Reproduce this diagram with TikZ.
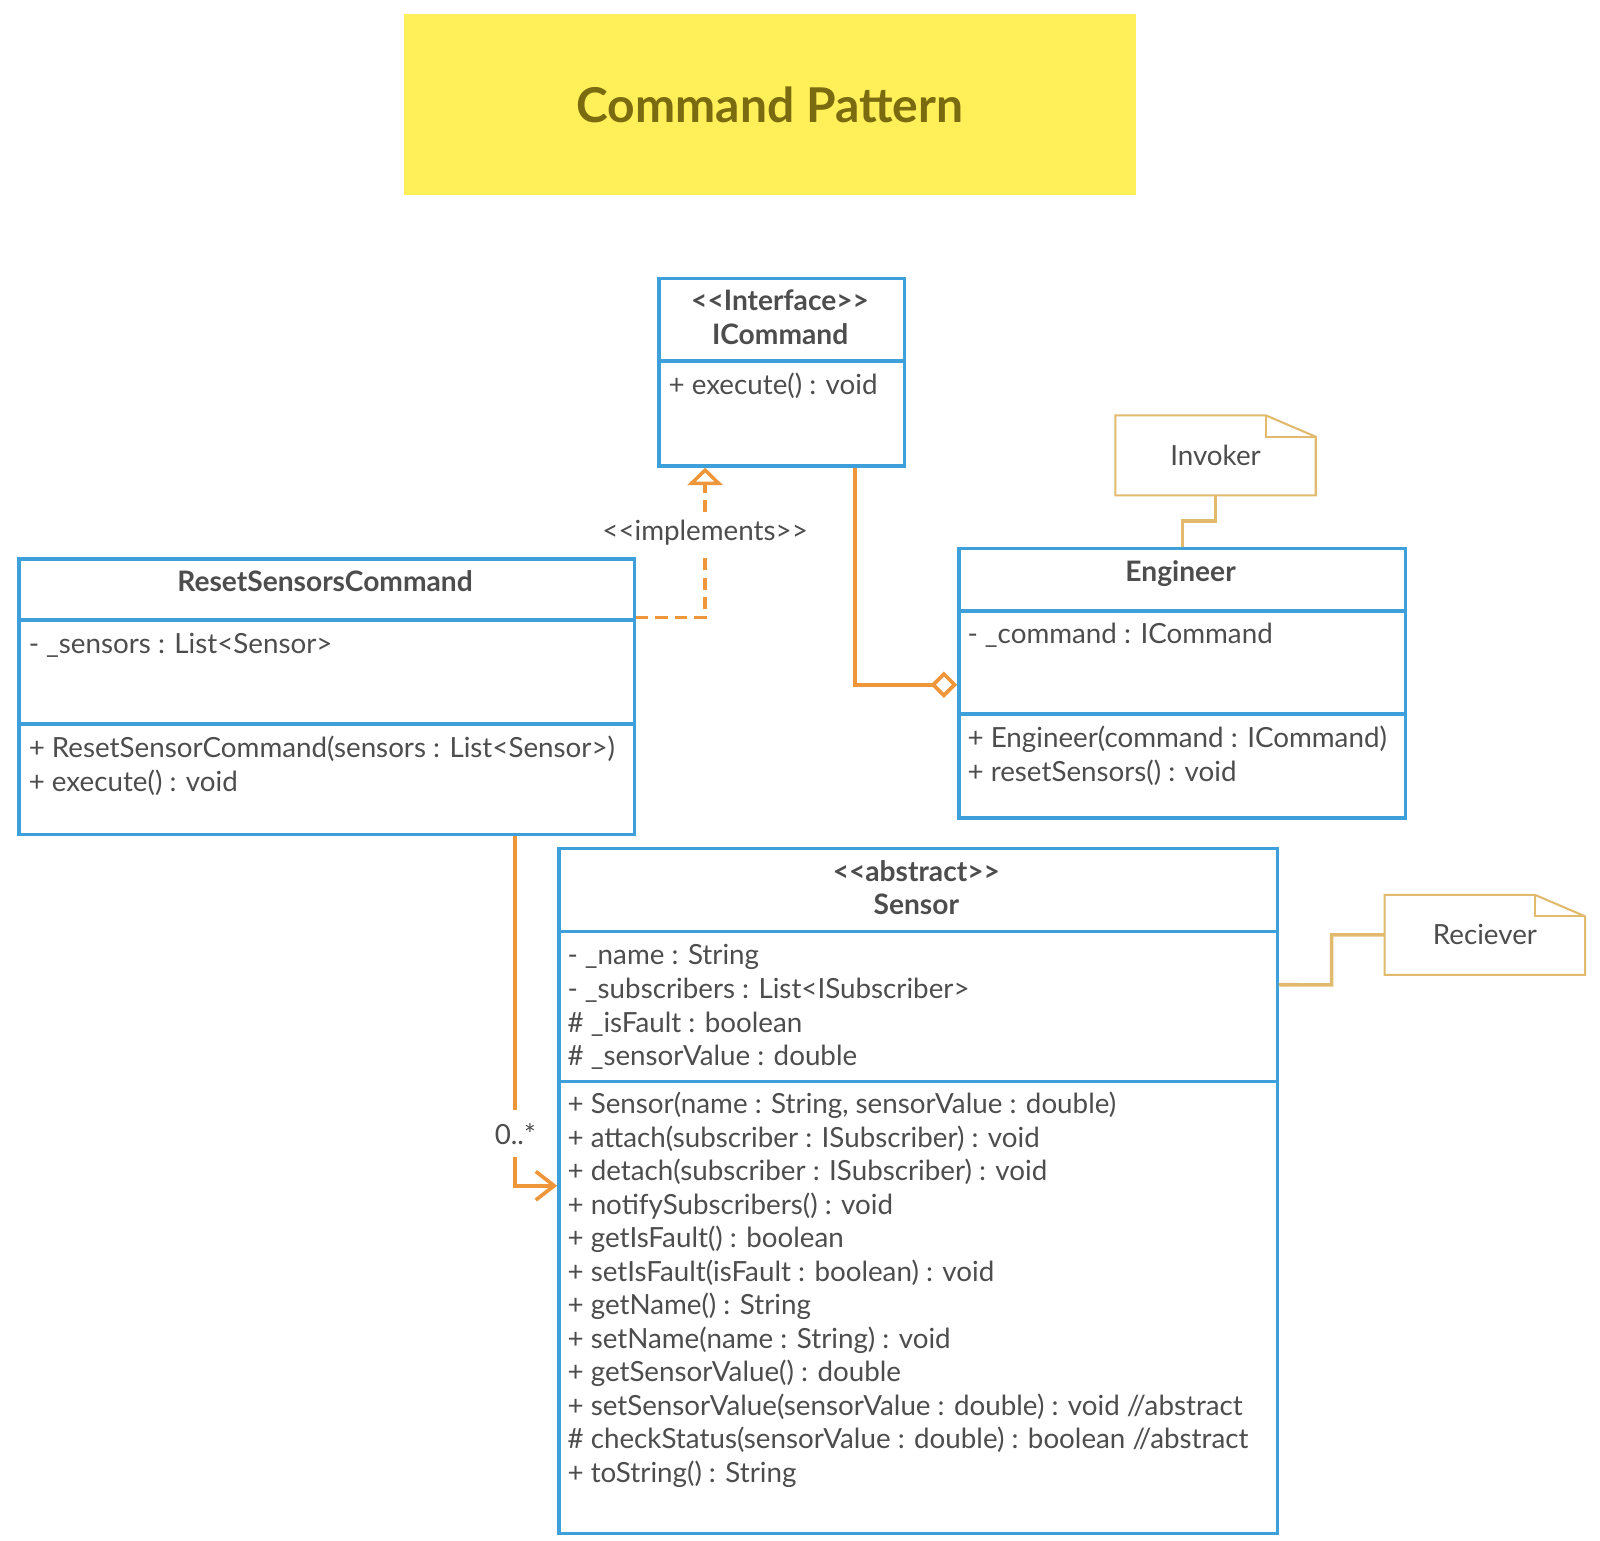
\documentclass[tikz,border=0pt]{standalone}
\usepackage{fontspec}
\setmainfont{Lato}
\usetikzlibrary{arrows.meta}

\definecolor{umlblue}{RGB}{62,160,218}
\definecolor{umlorange}{RGB}{239,150,58}
\definecolor{notetan}{RGB}{226,186,110}
\definecolor{titleyellow}{RGB}{255,240,90}
\definecolor{titletext}{RGB}{122,106,16}
\definecolor{umltext}{RGB}{77,77,77}

\begin{document}
\begin{tikzpicture}[x=1pt, y=-1pt,
    every node/.style={text=umltext, font=\fontsize{27.2}{33}\selectfont},
    compart/.style={draw=umlblue, line width=3.3pt, anchor=north west, inner sep=0pt},
    members/.style={anchor=base west, align=left, inner sep=0pt},
    classname/.style={anchor=base, align=center, inner sep=0pt, font=\fontsize{27.6}{33}\selectfont\bfseries},
    notebox/.style={anchor=north west, minimum width=196pt, minimum height=78pt, inner sep=0pt},
    noteline/.style={draw=notetan, line width=2pt},
    noteconn/.style={draw=notetan, line width=3.5pt},
    realize/.style={draw=umlorange, line width=3.4pt, dash pattern=on 12pt off 7pt, -{Triangle[open, length=17pt, width=34pt]}},
    aggregate/.style={draw=umlorange, line width=3.6pt, -{Diamond[open, length=26pt, width=26pt]}},
    assoc/.style={draw=umlorange, line width=3.6pt, -{Straight Barb[length=18pt, width=28pt]}},
    conlabel/.style={fill=white, inner sep=2pt, minimum height=38pt}]

    \useasboundingbox (0,0) rectangle (1568,1510);
    \fill[white] (0,0) rectangle (1568,1510);

    % Title
    \node at (754.5,102.5) (title) [fill=titleyellow, minimum width=717pt, minimum height=177pt, text=titletext, font=\fontsize{47}{50}\selectfont\bfseries] {Command Pattern};

    % Nodes (multi-line texts sit on the baseline of their last line)
    \node at (644,271) (icmdhead) [compart, minimum width=241pt, minimum height=81pt] {};
    \node at (644,352) (icmdbody) [compart, minimum width=241pt, minimum height=103pt] {};
    \node at (764.5,337.5) (icmdname) [classname] {<{}<Interface>{}>\\ICommand};
    \node at (655,386.5) (icmdops) [members] {+ execute() : void};

    \node at (17,546) (resethead) [compart, minimum width=603pt, minimum height=60pt] {};
    \node at (17,606) (resetattr) [compart, minimum width=603pt, minimum height=102pt] {};
    \node at (17,708) (resetmeth) [compart, minimum width=603pt, minimum height=108pt] {};
    \node at (318.5,579.5) (resetname) [classname] {ResetSensorsCommand};
    \node at (28,640.5) (resetattrs) [members] {- \_sensors : List<Sensor>};
    \node at (28,775.5) (resetops) [members] {+ ResetSensorCommand(sensors : List<Sensor>)\\+ execute() : void};

    \node at (938,536) (enghead) [compart, minimum width=438pt, minimum height=61pt] {};
    \node at (938,597) (engattr) [compart, minimum width=438pt, minimum height=101pt] {};
    \node at (938,698) (engmeth) [compart, minimum width=438pt, minimum height=102pt] {};
    \node at (1157,569.5) (engname) [classname] {Engineer};
    \node at (948,630.5) (engattrs) [members] {- \_command : ICommand};
    \node at (948,765.5) (engops) [members] {+ Engineer(command : ICommand)\\+ resetSensors() : void};

    \node at (546,830) (sensorhead) [compart, minimum width=704pt, minimum height=81pt] {};
    \node at (546,911) (sensorattr) [compart, minimum width=704pt, minimum height=147pt] {};
    \node at (546,1058) (sensormeth) [compart, minimum width=704pt, minimum height=443pt] {};
    \node at (898,896.5) (sensorname) [classname] {<{}<abstract>{}>\\Sensor};
    \node at (556,1044.5) (sensorattrs) [members] {- \_name : String\\- \_subscribers : List<ISubscriber>\\\# \_isFault : boolean\\\# \_sensorValue : double};
    \node at (556,1452.8) (sensorops) [members, font=\fontsize{27.2}{32.85}\selectfont] {+ Sensor(name : String, sensorValue : double)\\
        + attach(subscriber : ISubscriber) : void\\
        + detach(subscriber : ISubscriber) : void\\
        + notifySubscribers() : void\\
        + getIsFault() : boolean\\
        + setIsFault(isFault : boolean) : void\\
        + getName() : String\\
        + setName(name : String) : void\\
        + getSensorValue() : double\\
        + setSensorValue(sensorValue : double) : void //abstract\\
        \# checkStatus(sensorValue : double) : boolean //abstract\\
        + toString() : String};

    % Notes
    \node at (1093,407) (invoker) [notebox] {Invoker};
    \draw[noteline] (invoker.north west) -- ([xshift=-49pt]invoker.north east) -- ([yshift=-21pt]invoker.north east) -- (invoker.south east) -- (invoker.south west) -- cycle;
    \draw[noteline] ([xshift=-49pt]invoker.north east) |- ([yshift=-21pt]invoker.north east);

    \node at (1357,877) (reciever) [notebox] {Reciever};
    \draw[noteline] (reciever.north west) -- ([xshift=-49pt]reciever.north east) -- ([yshift=-21pt]reciever.north east) -- (reciever.south east) -- (reciever.south west) -- cycle;
    \draw[noteline] ([xshift=-49pt]reciever.north east) |- ([yshift=-21pt]reciever.north east);

    \draw[noteconn] (invoker.south) -- ++(0,25) -| (enghead.north);
    \draw[noteconn] (reciever.west) -| ++(-52,49) -- (sensorattr.east |- 0,965);

    % Arrows
    \draw[realize] ([yshift=4pt]resethead.south east) -| (icmdbody.south -| 691,0);
    \node at (691,522) (impllabel) [conlabel] {<{}<implements>{}>};

    \draw[aggregate] (icmdbody.south -| 838,0) |- (engattr.west |- 0,671);

    \draw[assoc] (resetmeth.south -| 505,0) |- (sensormeth.west |- 0,1162);
    \node at (505,1111) (multlabel) [conlabel, minimum height=46pt] {0..*};

\end{tikzpicture}
\end{document}
